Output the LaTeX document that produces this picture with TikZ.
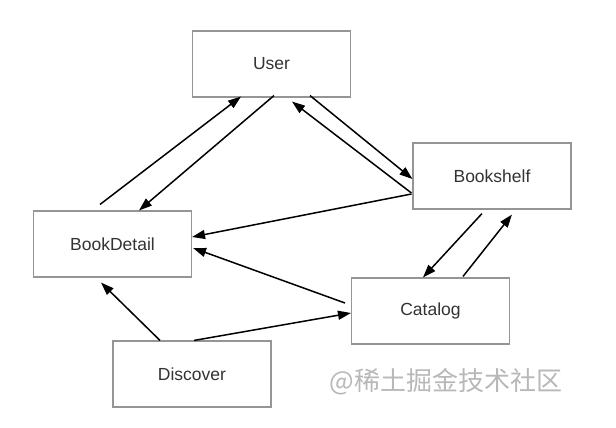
\documentclass[tikz,border=0pt]{standalone}
\usepackage{fontspec}
\setmainfont{Liberation Sans}
\newfontfamily\cjk{Noto Sans CJK SC}
\usetikzlibrary{arrows.meta,calc}
\definecolor{boxline}{HTML}{959595}
\definecolor{txt}{HTML}{333333}
\definecolor{wm}{HTML}{B8B8B8}
\tikzset{
  box/.style={draw=boxline, line width=1.1pt, fill=white, minimum width=158pt, minimum height=66pt, inner sep=0pt, text=txt, font=\fontsize{17.5}{20}\selectfont},
  link/.style={line width=1.5pt, -{Triangle[length=13pt,width=9pt]}}
}
\begin{document}
\begin{tikzpicture}[x=1pt,y=-1pt]
\useasboundingbox (0,0) rectangle (616,428);
\node[box] (user) at (271.5,64) {User};
\node[box] (bd) at (112.5,244) {BookDetail};
\node[box] (bs) at (492,176) {Bookshelf};
\node[box] (cat) at (430.5,311) {Catalog};
\node[box] (disc) at (192,374) {Discover};
\node[text=wm, font=\cjk\fontsize{26}{30}\selectfont, inner sep=0pt] (wmark) at (446,382) {@稀土掘金技术社区};
% connectors
\draw[link] ($(bd.north)+(-12.5,-6)$) -- ($(user.south)+(-30.5,-1)$);
\draw[link] ($(user.south)+(2.5,-2)$) -- ($(bd.north)+(26.5,0)$);
\draw[link] ($(bs.west)+(-1,17)$) -- ($(user.south)+(20.5,4)$);
\draw[link] ($(user.south)+(38.5,-2)$) -- ($(bs.west)+(0,3)$);
\draw[link] ($(bs.west)+(-1,18)$) -- ($(bd.east)+(0,-7)$);
\draw[link] ($(bs.south)+(-10,4)$) -- ($(cat.north)+(-7.5,0)$);
\draw[link] ($(cat.north)+(32.5,-1)$) -- ($(bs.south)+(20,5)$);
\draw[link] ($(cat.west)+(-6,-8)$) -- ($(bd.east)+(1,4)$);
\draw[link] ($(disc.north)+(-32,0)$) -- ($(bd.south)+(-11.5,5)$);
\draw[link] ($(disc.north)+(2,0)$) -- ($(cat.west)+(0,2)$);
\end{tikzpicture}
\end{document}
